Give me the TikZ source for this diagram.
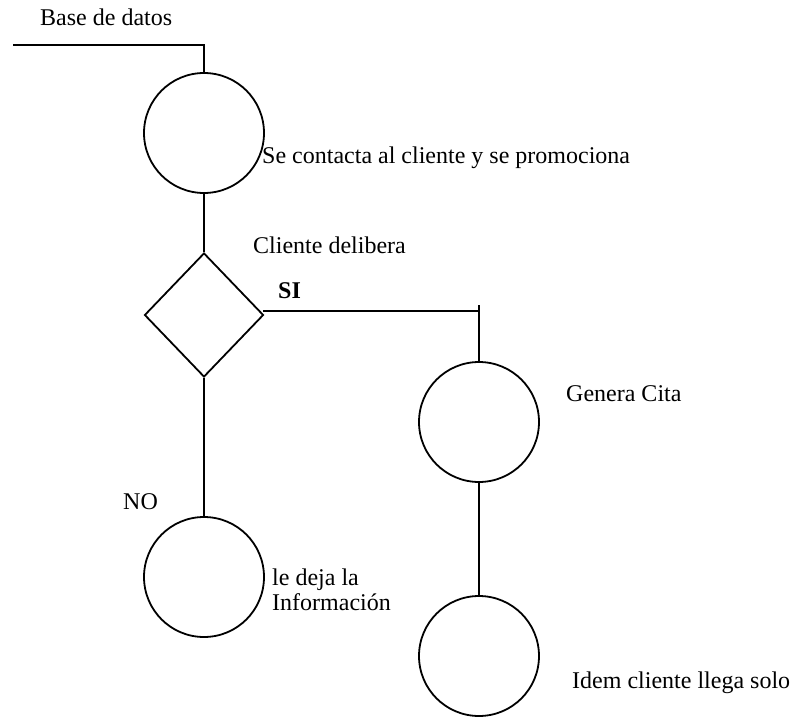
\documentclass[tikz,border=0pt]{standalone}
\usepackage{fontspec}
\setmainfont{Liberation Serif}
\usetikzlibrary{shapes.geometric}
\begin{document}
\begin{tikzpicture}[x=1pt,y=-1pt,
  stage/.style={circle,draw,line width=1.8pt,minimum size=120pt,inner sep=0pt},
  choice/.style={diamond,draw,line width=1.8pt,minimum width=119pt,minimum height=124pt,inner sep=0pt},
  link/.style={line width=1.8pt},
  lbl/.style={anchor=base west,inner sep=0pt,font=\fontsize{24}{29}\selectfont},
  lblb/.style={lbl,font=\fontsize{24}{29}\selectfont\bfseries}]
\useasboundingbox (0,0) rectangle (803,718);

% process steps
\node[stage] (contact) at (204,133) {};
\node[choice] (decide) at (204,315) {};
\node[stage] (cita) at (479,422) {};
\node[stage] (llega) at (479,656) {};
\node[stage] (info) at (204,577) {};

% free ends
\coordinate (dbstart) at (13,45);
\coordinate (dbcorner) at (204,45);
\coordinate (sicorner) at (479,311);
\coordinate (sitick) at (479,305);

% connectors
\draw[link] (dbstart) -- (dbcorner) -- (contact.north);
\draw[link] (contact.south) -- (decide.north);
\draw[link] ([xshift=-1pt]decide.east |- sicorner) -- (sicorner);
\draw[link] (sitick) -- (cita.north);
\draw[link] (cita.south) -- (llega.north);
\draw[link] (decide.south) -- (info.north);

% labels
\node[lbl] (tdb) at (40,25) {Base de datos};
\node[lbl] (tcontact) at (262,163) {Se contacta al cliente y se promociona};
\node[lbl] (tdecide) at (253,253) {Cliente delibera};
\node[lblb] (tsi) at (278,298) {SI};
\node[lbl] (tcita) at (566,401) {Genera Cita};
\node[lbl] (tno) at (123,509) {NO};
\node[lbl] (tinfo1) at (272,585) {le deja la};
\node[lbl] (tinfo2) at (272,610) {Información};
\node[lbl] (tllega) at (572,688) {Idem cliente llega solo};
\end{tikzpicture}
\end{document}
